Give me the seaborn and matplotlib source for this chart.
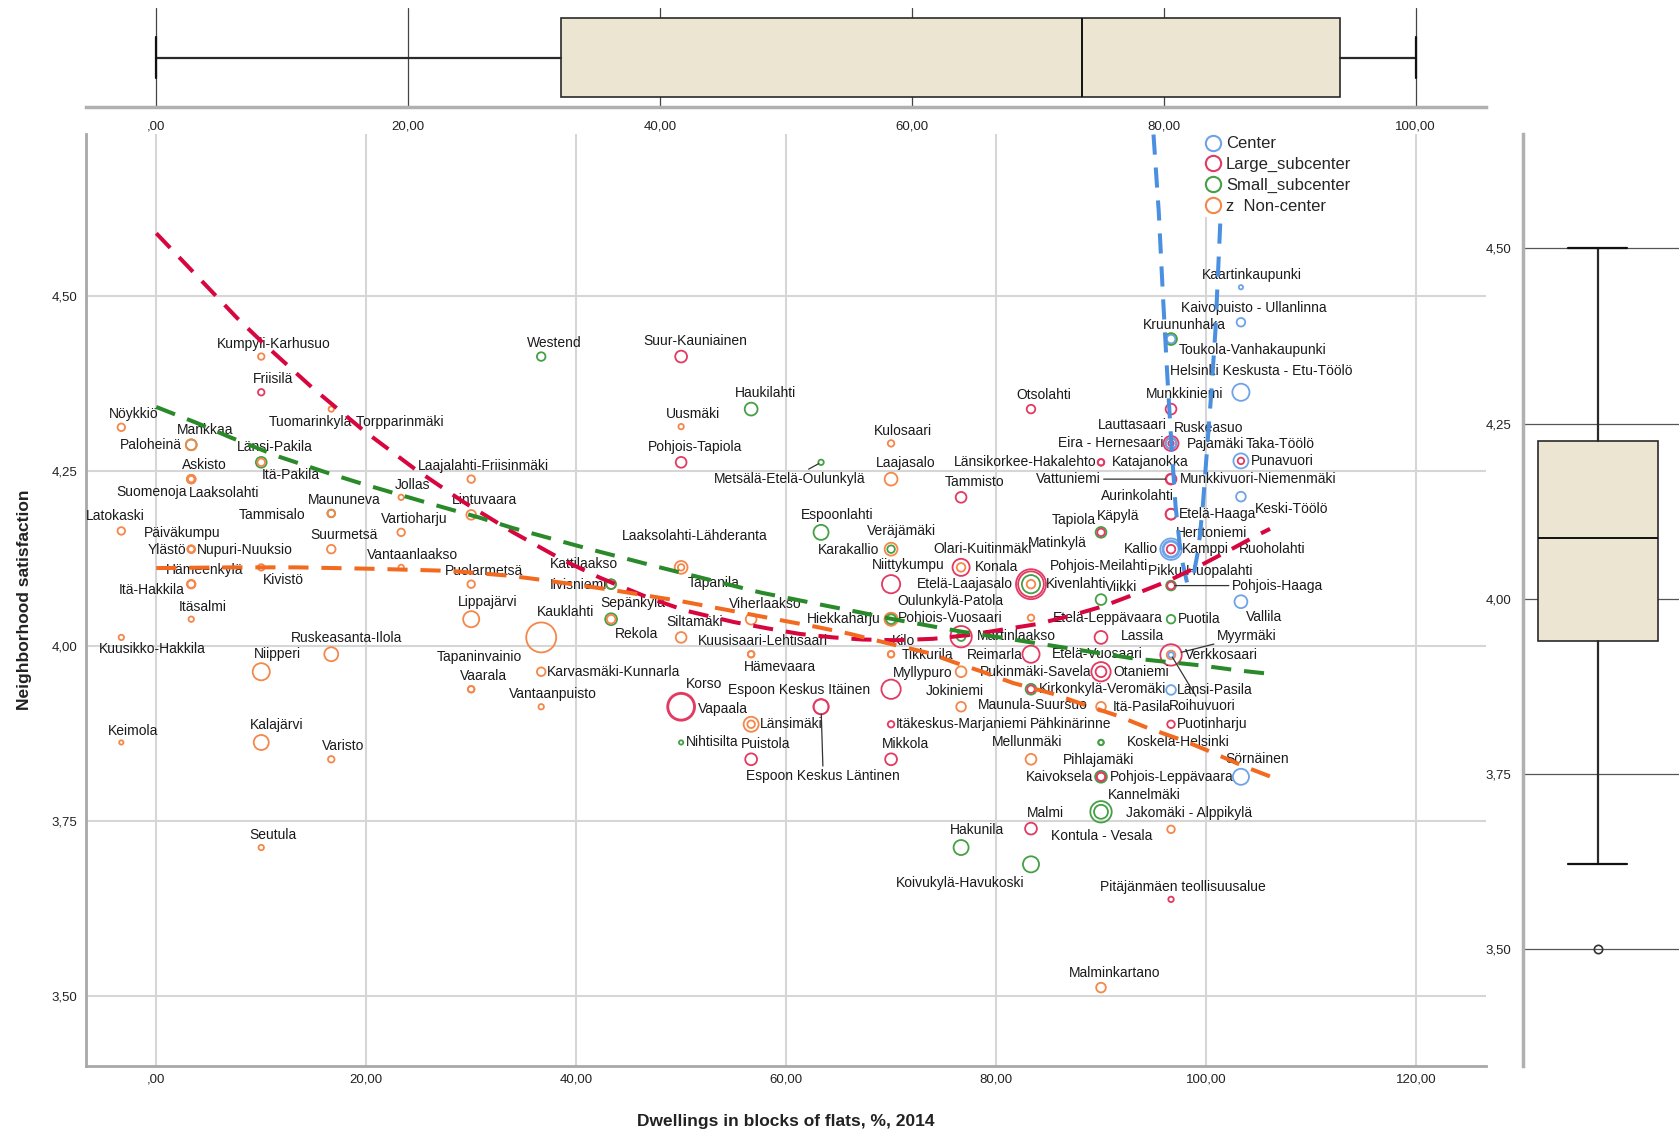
import matplotlib
matplotlib.use("Agg")
import matplotlib.pyplot as plt
import pandas as pd
import seaborn as sns
from matplotlib.lines import Line2D
from matplotlib.ticker import FuncFormatter, FixedLocator

# ------------------------------------------------------------------ data
# x columns (Dwellings in blocks of flats, %) and number of areas per column
col_x = [-3.33, 3.33, 10.0, 16.67, 23.33, 30.0, 36.67, 43.33, 50.0,
         56.67, 63.33, 70.0, 76.67, 83.33, 90.0, 96.67, 103.33]
col_n = [4, 11, 8, 6, 3, 6, 4, 4, 9, 7, 4, 13, 8, 12, 17, 25, 8]

names = [
    'Nöykkiö', 'Latokaski', 'Kuusikko-Hakkila', 'Keimola',
    'Mankkaa', 'Paloheinä', 'Askisto', 'Suomenoja', 'Laaksolahti', 'Päiväkumpu', 'Ylästö',
    'Nupuri-Nuuksio', 'Hämeenkylä', 'Itä-Hakkila', 'Itäsalmi',
    'Kumpyli-Karhusuo', 'Friisilä', 'Länsi-Pakila', 'Itä-Pakila', 'Kivistö', 'Niipperi',
    'Kalajärvi', 'Seutula',
    'Tuomarinkylä-Torpparinmäki', 'Maununeva', 'Tammisalo', 'Suurmetsä', 'Ruskeasanta-Ilola', 'Varisto',
    'Jollas', 'Vartioharju', 'Vantaanlaakso',
    'Laajalahti-Friisinmäki', 'Lintuvaara', 'Puolarmetsä', 'Lippajärvi', 'Vaarala', 'Tapaninvainio',
    'Westend', 'Kauklahti', 'Karvasmäki-Kunnarla', 'Vantaanpuisto',
    'Kattilaakso', 'Iivisniemi', 'Sepänkylä', 'Rekola',
    'Suur-Kauniainen', 'Uusmäki', 'Pohjois-Tapiola', 'Laaksolahti-Lähderanta', 'Tapanila', 'Siltamäki',
    'Korso', 'Vapaala', 'Nihtisilta',
    'Haukilahti', 'Viherlaakso', 'Kuusisaari-Lehtisaari', 'Hämevaara', 'Länsimäki', '', 'Puistola',
    'Metsälä-Etelä-Oulunkylä', 'Espoonlahti', 'Espoon Keskus Itäinen', 'Espoon Keskus Läntinen',
    'Kulosaari', 'Laajasalo', 'Veräjämäki', 'Karakallio', 'Niittykumpu', 'Hiekkaharju', 'Oulunkylä-Patola',
    'Pohjois-Vuosaari', 'Kilo', 'Tikkurila', 'Myllypuro', 'Itäkeskus-Marjaniemi', 'Mikkola',
    'Tammisto', 'Olari-Kuitinmäki', 'Konala', 'Martinlaakso', '', 'Pukinmäki-Savela', 'Jokiniemi', 'Hakunila',
    'Otsolahti', 'Matinkylä', 'Kivenlahti', 'Pohjois-Meilahti', 'Etelä-Laajasalo', 'Etelä-Leppävaara',
    'Reimarla', 'Kirkonkylä-Veromäki', 'Maunula-Suursuo', 'Mellunmäki', 'Malmi', 'Koivukylä-Havukoski',
    'Länsikorkee-Hakalehto', 'Katajanokka', 'Tapiola', 'Käpylä', 'Viikki', 'Lassila', 'Etelä-Vuosaari',
    'Otaniemi', 'Itä-Pasila', 'Pähkinärinne', 'Koskela-Helsinki', 'Pihlajamäki', 'Kaivoksela',
    'Pohjois-Leppävaara', 'Kannelmäki', 'Jakomäki - Alppikylä', 'Malminkartano',
    'Kruununhaka', 'Toukola-Vanhakaupunki', 'Munkkiniemi', 'Lauttasaari', 'Ruskeasuo', 'Eira - Hernesaari',
    'Pajamäki', 'Vattuniemi', 'Munkkivuori-Niemenmäki', 'Aurinkolahti', 'Etelä-Haaga', 'Kallio', 'Kamppi',
    'Herttoniemi', 'Ruoholahti', 'Pikku Huopalahti', 'Pohjois-Haaga', 'Puotila', 'Myyrmäki', 'Verkkosaari',
    'Roihuvuori', 'Länsi-Pasila', 'Puotinharju', 'Kontula - Vesala', 'Pitäjänmäen teollisuusalue',
    'Kaartinkaupunki', 'Kaivopuisto - Ullanlinna', 'Helsinki Keskusta - Etu-Töölö', 'Taka-Töölö',
    'Punavuori', 'Keski-Töölö', 'Vallila', 'Sörnäinen',
]

satisfaction = [
    4.312, 4.164, 4.012, 3.862,
    4.287, 4.287, 4.238, 4.238, 4.238, 4.138, 4.138, 4.138, 4.088, 4.088, 4.038,
    4.413, 4.362, 4.262, 4.262, 4.112, 3.963, 3.862, 3.712,
    4.338, 4.189, 4.189, 4.138, 3.988, 3.838,
    4.212, 4.162, 4.112,
    4.238, 4.187, 4.088, 4.038, 3.938, 3.938,
    4.413, 4.012, 3.963, 3.913,
    4.088, 4.088, 4.038, 4.038,
    4.413, 4.313, 4.262, 4.112, 4.112, 4.012, 3.913, 3.913, 3.862,
    4.338, 4.038, 3.988, 3.988, 3.888, 3.888, 3.838,
    4.262, 4.162, 3.913, 3.913,
    4.289, 4.238, 4.138, 4.138, 4.088, 4.038, 4.038, 4.038, 3.988, 3.988, 3.938, 3.888, 3.838,
    4.212, 4.112, 4.112, 4.013, 4.013, 3.963, 3.913, 3.712,
    4.338, 4.088, 4.088, 4.088, 4.088, 4.040, 3.988, 3.938, 3.938, 3.838, 3.739, 3.688,
    4.262, 4.262, 4.162, 4.162, 4.066, 4.012, 3.963, 3.963, 3.913, 3.862, 3.862, 3.813, 3.813,
    3.813, 3.763, 3.763, 3.512,
    4.438, 4.438, 4.338, 4.289, 4.289, 4.289, 4.289, 4.238, 4.238, 4.188, 4.188, 4.138, 4.138,
    4.138, 4.138, 4.086, 4.086, 4.038, 3.987, 3.987, 3.987, 3.937, 3.888, 3.738, 3.638,
    4.512, 4.462, 4.362, 4.264, 4.264, 4.213, 4.063, 3.813,
]

center_type = list(
    "NNNN" "SNNNNNNNNNN" "NLSNNNNN" "NSNNNN" "NNN" "NNNNNN" "SNNN" "NSSN"
    "LNLNNNLLS" "SNNNNNL" "SSLL" "NNNSLNNSNNLLL" "LLNLSNNS" "LLLSNNLSLNLS"
    "LLSLSLLLNSSSLLSSN" "CSLLLCLLLLLCCLCSLSLNCCLNL" "CCCCLCCC"
)

population = [  # thousand residents (marker size)
    3.1, 3.1, 1.6, 1.0,
    6.3, 6.3, 4.0, 4.0, 2.3, 3.1, 3.1, 2.3, 4.0, 3.1, 1.6,
    2.3, 2.3, 6.3, 3.1, 2.3, 16.0, 12.3, 1.6,
    1.6, 3.1, 3.1, 4.0, 10.6, 2.3,
    1.6, 3.1, 1.6,
    3.1, 5.1, 3.1, 14.1, 2.3, 2.3,
    4.0, 49.0, 4.0, 1.6,
    5.1, 5.1, 7.6, 4.0,
    7.6, 1.6, 6.3, 9.0, 2.3, 6.3, 42.3, 36.0, 1.0,
    9.0, 6.3, 2.3, 2.3, 12.3, 3.1, 7.6,
    1.6, 12.3, 12.3, 12.3,
    2.3, 9.0, 9.0, 3.1, 18.1, 9.0, 9.0, 5.1, 2.3, 2.3, 20.3, 2.3, 7.6,
    6.3, 16.0, 4.0, 25.0, 4.0, 6.3, 5.1, 12.3,
    4.0, 49.0, 36.0, 18.1, 4.0, 2.3, 16.0, 6.3, 3.1, 6.3, 7.6, 14.1,
    2.3, 2.3, 6.3, 3.1, 6.3, 9.0, 20.3, 6.3, 5.1, 1.6, 1.6, 7.6, 4.0, 4.0, 25.0, 10.6, 5.1,
    4.0, 7.6, 6.3, 12.3, 6.3, 6.3, 1.6, 6.3, 5.1, 6.3, 6.3, 25.0, 12.3, 4.0, 16.0, 5.1, 3.1,
    4.0, 25.0, 4.0, 1.6, 5.1, 3.1, 3.1, 1.6,
    1.0, 4.0, 16.0, 12.3, 2.3, 5.1, 9.0, 14.1,
]

# fit lines
fit_center_x = [95.0, 95.5, 95.9, 96.3, 96.7, 97.1, 97.6, 98.2, 98.8, 99.3, 99.7, 100.1,
                100.5, 100.9, 101.2, 101.5, 101.8]
fit_center_y = [4.73, 4.62, 4.50, 4.39, 4.29, 4.20, 4.13, 4.09, 4.10, 4.14, 4.20, 4.28,
                4.36, 4.45, 4.55, 4.65, 4.73]
fit_large_x = [0, 7.7, 10.2, 14.9, 19.7, 24.5, 29.2, 34.0, 38.8, 42.3, 47.0, 50.5, 55.0, 58.2,
               61.3, 64.5, 67.3, 70.5, 74.0, 77.2, 83.9, 87.1, 90.1, 93.1, 96.3, 99.5, 102.3,
               104.9, 106.1]
fit_large_y = [4.589, 4.468, 4.432, 4.368, 4.308, 4.254, 4.206, 4.162, 4.122, 4.097, 4.068,
               4.050, 4.034, 4.025, 4.017, 4.012, 4.009, 4.008, 4.010, 4.015, 4.031, 4.043,
               4.056, 4.073, 4.092, 4.115, 4.137, 4.158, 4.167]
fit_small_x = [0, 3.9, 7.0, 11.7, 16.5, 19.7, 26.1, 30.8, 34.0, 41.3, 47.7, 57.6, 63.9, 67.3,
               70.2, 73.5, 76.8, 80.4, 83.3, 86.7, 89.6, 93.1, 96.3, 99.5, 103.0, 106.7]
fit_small_y = [4.341, 4.318, 4.298, 4.270, 4.246, 4.231, 4.203, 4.183, 4.168, 4.138, 4.113,
               4.076, 4.057, 4.047, 4.038, 4.029, 4.020, 4.012, 4.005, 3.997, 3.990, 3.982,
               3.977, 3.972, 3.965, 3.959]
fit_non_x = [0, 7.0, 13.4, 20.6, 28.0, 33.7, 36.8, 40.1, 43.3, 47.0, 49.9, 53.4, 56.2, 59.7,
             62.9, 66.1, 69.6, 73.5, 75.9, 78.5, 81.6, 85.3, 88.2, 91.6, 94.4, 97.8, 100.4,
             103.6, 106.7]
fit_non_y = [4.111, 4.112, 4.112, 4.110, 4.107, 4.100, 4.094, 4.087, 4.080, 4.071, 4.064,
             4.054, 4.046, 4.036, 4.027, 4.017, 4.004, 3.990, 3.977, 3.964, 3.947, 3.932,
             3.917, 3.900, 3.883, 3.865, 3.849, 3.828, 3.810]

# marginal box plots: whisker low, Q1, median, Q3, whisker high
flats_box = [0.0, 32.1, 73.5, 94.0, 100.0]
satisfaction_box = [3.621, 3.940, 4.086, 4.225, 4.50]
satisfaction_outliers = [3.50]

# ------------------------------------------------------------------ layout of labels
# (ha, dx, dy) in reference pixels relative to the point; 'a' = above
label_layout = [
    'a', ('c', -6, -14), ('c', 29, 11), 'a',
    'a', ('r', -9, 0), 'a', ('r', -4, 12), ('l', -2, 13), ('c', -8, -15), ('r', -5, 1), ('l', 5, 1),
    'a', ('r', -6, 5), 'a',
    'a', 'a', 'a', ('c', 28, 12), ('c', 21, 12), 'a', 'a', 'a',
    ('c', 24, 12), 'a', ('r', -24, 1), 'a', 'a', 'a',
    'a', 'a', 'a',
    'a', 'a', 'a', 'a', 'a', ('c', 8, -30),
    'a', ('c', 23, -24), ('l', 5, 0), 'a',
    ('c', -25, -19), ('r', -4, 1), ('c', 20, -15), ('c', 24, 14),
    'a', 'a', 'a', ('c', 13, -29), ('c', 30, 15), 'a', ('c', 21, -21), ('l', 16, 2), ('l', 4, 0),
    'a', 'a', 'a', ('c', 27, 12), ('l', 8, 0), None, 'a',
    ('c', -29, 16), 'a', ('c', -21, -16), ('c', 2, 65),
    'a', 'a', ('c', 10, -17), ('r', -11, 1), 'a', ('r', -10, 0), ('l', 6, -17), ('l', 6, -1), 'a',
    ('l', 10, 1), ('l', 2, -15), ('l', 4, 0), 'a',
    'a', ('c', 20, -17), ('l', 13, 0), ('l', 15, -1), None, ('l', 18, 0), ('c', -6, -15), 'a',
    'a', ('c', 25, -38), ('l', 14, 0), ('l', 18, -17), ('r', -17, 0), ('l', 20, 0), ('r', -8, 1),
    ('l', 7, 0), ('c', 2, 15), ('c', -4, -16), 'a', ('c', -66, 17),
    ('r', -4, 0), ('l', 10, 0), ('c', -25, -12), ('c', 16, -15), ('c', 19, -12), ('l', 19, -1),
    ('c', -3, -17), ('l', 12, 0), ('l', 11, 0), ('c', -28, -17), ('l', 24, 0), ('c', -2, -16),
    ('r', -7, 0), ('l', 8, 0), ('c', 40, -16), ('l', 23, 1), 'a',
    'a', ('l', 7, 10), 'a', ('c', -36, -17), ('c', 35, -14), ('r', -7, 0), ('l', 15, 1), ('r', -66, 0),
    ('l', 8, 0), ('c', -31, -17), ('l', 7, 0), ('r', -12, 0), ('l', 10, 0), ('c', 38, -15),
    ('l', 63, 0), ('c', 27, -14), ('l', 57, 0), ('l', 6, 0), ('c', 71, -18), ('l', 13, 0),
    ('c', 29, 48), ('l', 5, 0), ('l', 5, 0), ('r', -17, 6), 'a',
    'a', 'a', ('c', 19, -20), ('c', 37, -16), ('l', 9, 0), ('c', 47, 12), ('c', 22, 14), 'a',
]
leader_names = {'Metsälä-Etelä-Oulunkylä', 'Espoon Keskus Läntinen', 'Vattuniemi',
                'Pohjois-Haaga', 'Myyrmäki', 'Roihuvuori'}

# ------------------------------------------------------------------ styling
sns.set_theme(style="white")
plt.rcParams["font.family"] = ["Liberation Sans", "DejaVu Sans"]

GROUPS = {"C": "Center", "L": "Large_subcenter", "S": "Small_subcenter", "N": "z  Non-center"}
HUE_ORDER = ["Center", "Large_subcenter", "Small_subcenter", "z  Non-center"]
PALETTE = {"Center": "#6fa3e8", "Large_subcenter": "#e23a62",
           "Small_subcenter": "#45a045", "z  Non-center": "#f5874a"}
LINE_COL = {"Center": "#4a8fe0", "Large_subcenter": "#d8063e",
            "Small_subcenter": "#2a8a2a", "z  Non-center": "#f26a20"}
PX = 1679 / 1568 * 0.72      # reference pixel -> points
DASH = (0, (5, 3.2))

xs = [x for x, n in zip(col_x, col_n) for _ in range(n)]
df = pd.DataFrame({
    "name": names,
    "flats": xs,
    "satisfaction": satisfaction,
    "group": [GROUPS[c] for c in center_type],
    "pop": population,
})


def comma_fmt(v, pos=None):
    s = f"{v:.2f}".replace(".", ",")
    if s.startswith("0,"):
        s = s[1:]
    return s


fig = plt.figure(figsize=(16.79, 11.31), dpi=100)
ax = fig.add_axes([0.051, 0.0578, 0.8342, 0.8238])
axt = fig.add_axes([0.051, 0.9053, 0.8342, 0.0876])
axr = fig.add_axes([0.9069, 0.0578, 0.0931, 0.8238])

# ---------------- main scatter
sns.scatterplot(data=df, x="flats", y="satisfaction", hue="group", size="pop",
                hue_order=HUE_ORDER, palette=PALETTE, sizes=(0, 475), size_norm=(0, 50),
                legend=False, ax=ax, zorder=3)
coll = ax.collections[-1]
fc = coll.get_facecolors()
coll.set_edgecolors(fc)
coll.set_facecolors("none")
coll.set_linewidths(1.3)

for (lx, ly, grp) in [(fit_center_x, fit_center_y, "Center"),
                      (fit_large_x, fit_large_y, "Large_subcenter"),
                      (fit_small_x, fit_small_y, "Small_subcenter"),
                      (fit_non_x, fit_non_y, "z  Non-center")]:
    sns.lineplot(x=lx, y=ly, ax=ax, color=LINE_COL[grp], lw=2.9, linestyle=DASH,
                 sort=False, estimator=None, zorder=4)

for i, row in df.iterrows():
    spec = label_layout[i]
    if spec is None or not row["name"]:
        continue
    d = (row["pop"] * 16) ** 0.5
    if spec == 'a':
        ha, dx, dy = 'center', 9 + d / 2.5, -(d / 2 + 9)
    else:
        ha = {'c': 'center', 'l': 'left', 'r': 'right'}[spec[0]]
        dx, dy = spec[1], spec[2]
    kw = {}
    if row["name"] in leader_names:
        kw["arrowprops"] = dict(arrowstyle="-", color="#333333", lw=0.9,
                                shrinkA=0, shrinkB=d * PX / 2)
    ax.annotate(row["name"], (row["flats"], row["satisfaction"]),
                xytext=(dx * PX, -dy * PX), textcoords="offset points",
                ha=ha, va="center", fontsize=10, color="#1a1a1a", zorder=3.5,
                annotation_clip=False, **kw)

ax.set_xlim(-6.73, 126.7)
ax.set_ylim(3.4006, 4.7309)
ax.xaxis.set_major_locator(FixedLocator([0, 20, 40, 60, 80, 100, 120]))
ax.yaxis.set_major_locator(FixedLocator([3.5, 3.75, 4.0, 4.25, 4.5]))
ax.xaxis.set_major_formatter(FuncFormatter(comma_fmt))
ax.yaxis.set_major_formatter(FuncFormatter(comma_fmt))
ax.grid(True, color="#d6d6d6", lw=1.5)
ax.set_axisbelow(True)
for s in ["top", "right"]:
    ax.spines[s].set_visible(False)
for s in ["left", "bottom"]:
    ax.spines[s].set_color("#a8a8a8")
    ax.spines[s].set_linewidth(2)
ax.tick_params(axis="both", length=0, pad=6, labelsize=9.5, colors="#222222")
ax.set_xlabel("Dwellings in blocks of flats, %, 2014", fontsize=12.5, fontweight="bold",
              labelpad=20, color="#222222")
ax.set_ylabel("Neighborhood satisfaction", fontsize=12.5, fontweight="bold",
              labelpad=14, color="#222222")

handles = [Line2D([0], [0], marker="o", ls="none", mfc="none", mec=PALETTE[g], mew=1.5, ms=11)
           for g in HUE_ORDER]
leg = ax.legend(handles, HUE_ORDER, loc="upper left", bbox_to_anchor=(0.797, 1.0),
                frameon=True, framealpha=1, facecolor="white", edgecolor="none",
                fontsize=12, handlelength=1.0, handletextpad=0.3, labelspacing=0.35,
                borderpad=0.15, borderaxespad=0)
leg.set_zorder(10)

# ---------------- top box plot (flats)
def box_stats(v, fliers=()):
    return dict(whislo=v[0], q1=v[1], med=v[2], q3=v[3], whishi=v[4], fliers=list(fliers))


BOX_KW = dict(patch_artist=True, manage_ticks=False,
              boxprops=dict(facecolor="#ebe5d1", edgecolor="#2a2a2a", lw=1.2),
              medianprops=dict(color="#111111", lw=1.4),
              whiskerprops=dict(color="#2a2a2a", lw=1.6),
              capprops=dict(color="#111111", lw=1.6))
try:
    axt.bxp([box_stats(flats_box)], positions=[0], widths=0.8, orientation="horizontal",
            showfliers=False, capwidths=0.41, **BOX_KW)
except TypeError:
    axt.bxp([box_stats(flats_box)], positions=[0], widths=0.8, vert=False,
            showfliers=False, capwidths=0.41, **BOX_KW)
axt.set_xlim(-5.612, 105.61)
axt.set_ylim(-0.5, 0.5)
axt.xaxis.set_major_locator(FixedLocator([0, 20, 40, 60, 80, 100]))
axt.xaxis.set_major_formatter(FuncFormatter(comma_fmt))
axt.set_yticks([])
axt.grid(True, axis="x", color="#444444", lw=0.9)
axt.set_axisbelow(True)
for s in ["top", "right", "left"]:
    axt.spines[s].set_visible(False)
axt.spines["bottom"].set_color("#b0b0b0")
axt.spines["bottom"].set_linewidth(2.5)
axt.tick_params(axis="x", length=0, pad=10, labelsize=9.5, colors="#222222")
axt.set_facecolor("white")

# ---------------- right box plot (satisfaction)
flier_kw = dict(marker="o", mfc="none", mec="#333333", ms=6, mew=1.2)
try:
    axr.bxp([box_stats(satisfaction_box, satisfaction_outliers)], positions=[-0.02], widths=0.77,
            orientation="vertical", showfliers=True, capwidths=0.38, flierprops=flier_kw, **BOX_KW)
except TypeError:
    axr.bxp([box_stats(satisfaction_box, satisfaction_outliers)], positions=[-0.02], widths=0.77,
            vert=True, showfliers=True, capwidths=0.38, flierprops=flier_kw, **BOX_KW)
axr.set_xlim(-0.5, 0.5)
axr.set_ylim(3.3333, 4.6636)
axr.yaxis.set_major_locator(FixedLocator([3.5, 3.75, 4.0, 4.25, 4.5]))
axr.yaxis.set_major_formatter(FuncFormatter(comma_fmt))
axr.set_xticks([])
axr.grid(True, axis="y", color="#555555", lw=0.9)
axr.set_axisbelow(True)
for s in ["top", "right", "bottom"]:
    axr.spines[s].set_visible(False)
axr.spines["left"].set_color("#b0b0b0")
axr.spines["left"].set_linewidth(2.5)
axr.tick_params(axis="y", length=7, width=0.9, color="#555555", pad=1, labelsize=9.5,
                colors="#222222")
axr.tick_params(axis="y", color="#555555")

fig.savefig("out.png", dpi=100, facecolor="white")
